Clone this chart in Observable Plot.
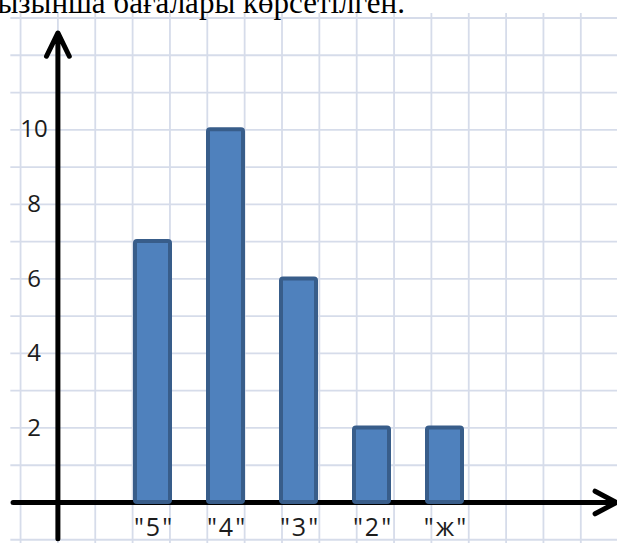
<!DOCTYPE html>
<html><head><meta charset="utf-8">
<script src="https://cdn.jsdelivr.net/npm/d3@7"></script>
<script src="https://cdn.jsdelivr.net/npm/@observablehq/plot@0.6"></script>
<style>
html,body{margin:0;padding:0;background:#fff;overflow:hidden}
#wrap{position:relative;width:617px;height:543px}
#wrap svg{position:absolute;left:0;top:0}
#bars text{letter-spacing:2px}
</style></head><body><div id="wrap"></div>
<script>
// ---- data ----
const heading = "ызынша бағалары көрсетілген.";
const categories = ['"5"', '"4"', '"3"', '"2"', '"ж"'];
const counts = [7, 10, 6, 2, 2];
const yTicks = [2, 4, 6, 8, 10];
const gridX = [-1, 0, 1, 2, 3, 4, 5, 6, 7, 8, 9, 10, 11, 12, 13, 14, 15];
const gridY = [-1, 0, 1, 2, 3, 4, 5, 6, 7, 8, 9, 10, 11, 12, 13];

const bars = categories.map((c, i) => ({cat: c, n: counts[i]}));

const W = 617, H = 543;
const yScale = {type: "linear", domain: [0, 10], range: [502, 129.3]};
const common = {width: W, height: H, marginTop: 0, marginRight: 0, marginBottom: 0, marginLeft: 0};

// ---- layer 1: grid paper, axes arrows, y labels, heading ----
const back = Plot.plot({
  ...common,
  style: {background: "white", overflow: "hidden"},
  x: {type: "linear", domain: [0, 10], range: [57.4, 430.9], axis: null},
  y: {...yScale, axis: null},
  marks: [
    Plot.ruleX(gridX, {x: d => d, y1: -1.2, y2: 13.12, stroke: "#d6dcea", strokeWidth: 1.8}),
    Plot.ruleY(gridY, {y: d => d, x1: -1.26, x2: 15.2, stroke: "#d6dcea", strokeWidth: 1.8}),
    Plot.arrow([0], {x1: 0, x2: 0, y1: -0.97, y2: 12.6, stroke: "#000", strokeWidth: 5,
      headLength: 7.8, headAngle: 52}),
    Plot.arrow([0], {x1: -1.2, x2: 14.95, y1: 0, y2: 0, stroke: "#000", strokeWidth: 5,
      headLength: 7.2, headAngle: 56}),
    Plot.text(yTicks, {x: -0.64, y: d => d, text: d => String(d), textAnchor: "middle",
      fontSize: 24, fontFamily: "Open Sans", fill: "#1c1c1c"}),
    Plot.text([heading], {frameAnchor: "top-left", textAnchor: "start", lineAnchor: "bottom",
      dx: -3, dy: 12, fontSize: 31, fontFamily: "Liberation Serif", fill: "#000"})
  ]
});

// ---- layer 2: bars and category labels ----
const front = Plot.plot({
  ...common,
  style: {background: "transparent", overflow: "visible"},
  x: {type: "band", domain: categories, range: [96, 500.6], padding: 0.52, axis: null},
  y: {...yScale, axis: null},
  marks: [
    Plot.barY(bars, {x: "cat", y: "n", fill: "#4f81bd", stroke: "#385d8a", strokeWidth: 4, rx: 2}),
    Plot.text(categories, {x: d => d, y: 0, dy: 25, dx: 1, text: d => d, textAnchor: "middle",
      fontSize: 25, fontFamily: "Open Sans", fill: "#1c1c1c"})
  ]
});
front.id = "bars";

const wrap = document.getElementById("wrap");
wrap.appendChild(back);
wrap.appendChild(front);
</script></body></html>
